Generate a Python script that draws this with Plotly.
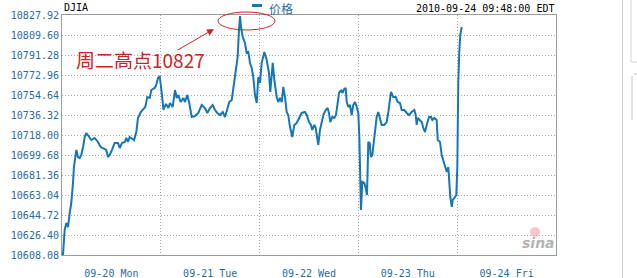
import plotly.graph_objects as go

# ---- data (x = trading-day position, 0 = open of 09-20; y = DJIA price) ----
day_pos = [
    0.010, 0.027, 0.044, 0.061, 0.078, 0.094, 0.111, 0.121, 0.145, 0.162,
    0.179, 0.195, 0.213, 0.230, 0.246, 0.263, 0.280, 0.297, 0.331, 0.364,
    0.392, 0.415, 0.448, 0.466, 0.483, 0.506, 0.533, 0.567, 0.584, 0.607,
    0.635, 0.651, 0.668, 0.685, 0.709, 0.729, 0.752, 0.769, 0.797, 0.820,
    0.843, 0.863, 0.888, 0.904, 0.938, 0.954, 0.972, 0.989, 1.005, 1.012,
    1.027, 1.032, 1.053, 1.076, 1.093, 1.120, 1.144, 1.161, 1.177, 1.201,
    1.228, 1.245, 1.268, 1.288, 1.313, 1.346, 1.380, 1.414, 1.447, 1.471,
    1.498, 1.525, 1.549, 1.572, 1.599, 1.627, 1.650, 1.667, 1.693, 1.718,
    1.741, 1.761, 1.778, 1.791, 1.802, 1.812, 1.829, 1.852, 1.869, 1.886,
    1.903, 1.920, 1.936, 1.953, 1.971, 1.987, 2.004, 2.021, 2.048, 2.072,
    2.095, 2.108, 2.122, 2.133, 2.149, 2.173, 2.189, 2.206, 2.224, 2.240,
    2.257, 2.274, 2.290, 2.308, 2.331, 2.351, 2.375, 2.399, 2.426, 2.459,
    2.477, 2.500, 2.520, 2.533, 2.554, 2.568, 2.581, 2.594, 2.611, 2.629,
    2.645, 2.669, 2.689, 2.702, 2.716, 2.736, 2.756, 2.773, 2.790, 2.804,
    2.824, 2.837, 2.857, 2.871, 2.882, 2.898, 2.915, 2.932, 2.948, 2.966,
    2.983, 2.999, 3.009, 3.016, 3.026, 3.040, 3.060, 3.074, 3.087, 3.094,
    3.100, 3.115, 3.125, 3.141, 3.155, 3.168, 3.185, 3.201, 3.219, 3.236,
    3.262, 3.286, 3.303, 3.320, 3.330, 3.353, 3.378, 3.398, 3.421, 3.438,
    3.465, 3.489, 3.512, 3.539, 3.566, 3.580, 3.590, 3.600, 3.623, 3.641,
    3.657, 3.674, 3.691, 3.715, 3.735, 3.748, 3.768, 3.792, 3.803, 3.826,
    3.843, 3.859, 3.877, 3.894, 3.910, 3.920, 3.930, 3.945, 3.955, 3.971,
    3.991, 4.001, 4.005, 4.011, 4.021, 4.031, 4.046,
]
price = [
    10608.1, 10631.0, 10637.4, 10633.7, 10646.6, 10655.7, 10674.0, 10688.7, 10704.3, 10697.8,
    10696.9, 10699.7, 10707.0, 10716.2, 10719.8, 10718.0, 10715.3, 10713.4, 10715.3, 10711.6,
    10707.0, 10706.1, 10704.3, 10697.8, 10699.7, 10704.3, 10710.7, 10710.7, 10706.1, 10710.7,
    10711.6, 10715.3, 10711.6, 10716.2, 10714.3, 10713.4, 10720.7, 10733.6, 10739.1, 10740.9,
    10743.6, 10752.8, 10751.9, 10759.2, 10761.1, 10763.8, 10770.2, 10772.0, 10762.0, 10754.6,
    10740.9, 10742.7, 10746.4, 10742.7, 10747.3, 10743.6, 10759.2, 10751.9, 10754.6, 10748.2,
    10751.9, 10748.2, 10754.6, 10747.3, 10734.5, 10735.4, 10738.2, 10745.5, 10742.7, 10738.2,
    10742.7, 10745.5, 10740.9, 10738.2, 10736.3, 10739.1, 10734.5, 10740.9, 10748.2, 10750.1,
    10766.6, 10779.4, 10789.5, 10814.2, 10827.0, 10816.9, 10807.8, 10802.3, 10793.1, 10794.0,
    10784.0, 10779.4, 10771.1, 10754.6, 10747.3, 10771.1, 10765.6, 10784.0, 10794.0, 10786.7,
    10774.8, 10757.4, 10777.5, 10784.0, 10768.4, 10752.8, 10748.2, 10751.9, 10748.2, 10762.0,
    10752.8, 10739.1, 10736.3, 10725.3, 10716.2, 10727.2, 10729.0, 10733.6, 10738.2, 10739.1,
    10736.3, 10729.9, 10727.2, 10722.6, 10727.2, 10724.4, 10716.2, 10708.9, 10722.6, 10729.0,
    10736.3, 10740.9, 10742.7, 10738.2, 10729.9, 10734.5, 10733.6, 10736.3, 10745.5, 10756.5,
    10759.2, 10756.5, 10760.2, 10761.1, 10748.2, 10743.6, 10745.5, 10736.3, 10745.5, 10748.2,
    10743.6, 10738.2, 10717.1, 10675.9, 10649.3, 10675.0, 10674.0, 10669.5, 10663.0, 10687.8,
    10711.6, 10710.7, 10697.8, 10699.7, 10711.6, 10724.4, 10734.5, 10739.1, 10733.6, 10727.2,
    10727.2, 10729.9, 10739.1, 10748.2, 10757.4, 10752.8, 10752.8, 10748.2, 10747.3, 10740.9,
    10740.9, 10738.2, 10736.3, 10739.1, 10740.9, 10736.3, 10727.2, 10733.6, 10731.7, 10729.9,
    10724.4, 10720.7, 10727.2, 10734.5, 10734.5, 10731.7, 10733.6, 10731.7, 10713.4, 10711.6,
    10699.7, 10695.1, 10688.7, 10684.1, 10688.7, 10675.0, 10661.2, 10652.1, 10658.5, 10660.3,
    10663.0, 10687.8, 10724.4, 10766.6, 10794.0, 10809.6, 10816.9,
]
y_ticks = [10608.08, 10626.40, 10644.72, 10663.04, 10681.36, 10699.68, 10718.00,
           10736.32, 10754.64, 10772.96, 10791.28, 10809.60, 10827.92]
y_tick_text = ["%.2f" % v for v in y_ticks]
day_centers = [0.5, 1.5, 2.5, 3.5, 4.5]
day_labels = ["09-20 Mon", "09-21 Tue", "09-22 Wed", "09-23 Thu", "09-24 Fri"]
day_bounds = [1, 2, 3, 4]
series_name = "价格"
title_text = "DJIA"
stamp_text = "2010-09-24 09:48:00 EDT"
note_text = "周二高点10827"

BLUE = "#1776b6"
TICK_BLUE = "#1f6ea6"
RED = "#cc2424"
MONO = "DejaVu Sans Mono"
GRID = "#a9a9a9"

fig = go.Figure()
fig.add_trace(go.Scatter(x=day_pos, y=price, mode="lines", name=series_name,
                         line=dict(color=BLUE, width=2), showlegend=False))

fig.update_layout(
    width=637, height=278,
    margin=dict(l=62, r=81, t=15, b=23),
    paper_bgcolor="white", plot_bgcolor="white",
    xaxis=dict(range=[0, 5], tickmode="array", tickvals=day_centers, ticktext=day_labels,
               showgrid=False, zeroline=False, ticks="outside", ticklen=9,
               tickcolor="rgba(0,0,0,0)", automargin=False,
               tickfont=dict(family=MONO, size=10, color=TICK_BLUE),
               showline=True, linecolor="#9c9c9c", linewidth=1, mirror=True,
               minor=dict(tickmode="array", tickvals=day_bounds, showgrid=True,
                          gridcolor=GRID, griddash="1px,2px", gridwidth=1, ticks="")),
    yaxis=dict(range=[10608.08, 10827.92], tickmode="array", tickvals=y_ticks,
               ticktext=y_tick_text, showgrid=True, gridcolor=GRID, automargin=False,
               griddash="1px,2px", gridwidth=1, zeroline=False, ticks="",
               tickfont=dict(family=MONO, size=10, color=TICK_BLUE),
               showline=True, linecolor="#9c9c9c", linewidth=1, mirror=True),
    showlegend=False,
)

def px(x):
    return (x - 62) / 494.0

def py(y):
    return (255 - y) / 240.0

ann = [
    dict(text=title_text, x=0, y=py(7.5), xref="paper", yref="paper", xanchor="left",
         yanchor="middle", showarrow=False, font=dict(family=MONO, size=10, color="black")),
    dict(text=stamp_text, x=1, y=py(8), xref="paper", yref="paper", xanchor="right",
         yanchor="middle", showarrow=False, font=dict(family=MONO, size=10, color="black")),
    dict(text=series_name, x=px(267), y=py(8), xref="paper", yref="paper", xanchor="left",
         yanchor="middle", showarrow=False,
         font=dict(family="Noto Sans CJK SC", size=12, color=TICK_BLUE)),
    dict(text=note_text, x=px(74), y=py(59), xref="paper", yref="paper", xanchor="left",
         yanchor="middle", showarrow=False,
         font=dict(family="Noto Sans CJK SC", size=19, color=RED)),
    dict(text="", x=px(214), y=py(29), xref="paper", yref="paper", showarrow=True,
         ax=-38, ay=22, arrowhead=2, arrowsize=1.4, arrowwidth=1, arrowcolor=RED),
    dict(text="<i><b>sina</b></i>", x=px(538), y=py(243), xref="paper", yref="paper",
         xanchor="center", yanchor="middle", showarrow=False,
         font=dict(family="DejaVu Sans", size=14, color="#b4b4b4")),
]
fig.update_layout(annotations=ann)

shapes = [
    dict(type="rect", xref="paper", yref="paper", x0=px(252), x1=px(262), y0=py(7), y1=py(4),
         fillcolor=BLUE, line=dict(width=0)),
    dict(type="circle", xref="paper", yref="paper", x0=px(218), x1=px(275), y0=py(30), y1=py(12),
         line=dict(color=RED, width=1)),
    dict(type="circle", xref="paper", yref="paper", x0=px(530), x1=px(540), y0=py(237), y1=py(227),
         fillcolor="rgba(240,150,165,0.55)", line=dict(width=0)),
    dict(type="line", xref="paper", yref="paper", x0=px(622.5), x1=px(622.5), y0=py(278), y1=py(0),
         line=dict(color="#d2d2d2", width=1)),
    dict(type="line", xref="paper", yref="paper", x0=px(631), x1=px(631), y0=py(62), y1=py(0),
         line=dict(color="#d2d2d2", width=1)),
    dict(type="line", xref="paper", yref="paper", x0=px(631), x1=px(637), y0=py(62), y1=py(62),
         line=dict(color="#d2d2d2", width=1)),
    dict(type="line", xref="paper", yref="paper", x0=px(632), x1=px(632), y0=py(120), y1=py(76),
         line=dict(color="#e2e2e2", width=2)),
    dict(type="line", xref="paper", yref="paper", x0=px(634), x1=px(637), y0=py(74), y1=py(74),
         line=dict(color="#e2e2e2", width=2)),
]
fig.update_layout(shapes=shapes)

fig.write_html("out.html")
